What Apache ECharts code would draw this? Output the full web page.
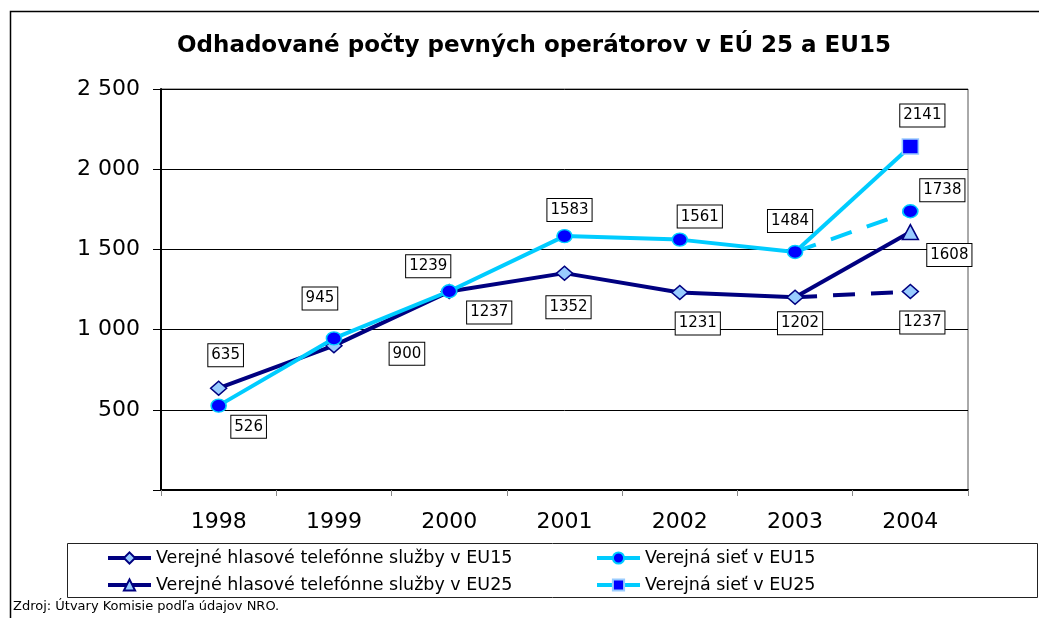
<!DOCTYPE html>
<html>
<head>
<meta charset="utf-8">
<script src="https://cdn.jsdelivr.net/npm/echarts@6/dist/echarts.min.js"></script>
<style>
  html, body { margin: 0; padding: 0; background: #fff; }
  #chart { width: 1039px; height: 618px; }
</style>
</head>
<body>
<div id="chart"></div>
<script>
// data
const years = ['1998', '1999', '2000', '2001', '2002', '2003', '2004'];
const seriesNames = [
  'Verejné hlasové telefónne služby v EU15',
  'Verejná sieť v EU15',
  'Verejné hlasové telefónne služby v EU25',
  'Verejná sieť v EU25'
];
const voiceEU15 = [635, 900, 1237, 1352, 1231, 1202, 1237];
const netEU15 = [526, 945, 1239, 1583, 1561, 1484, 1738];
const voiceEU25 = [null, null, null, null, null, 1202, 1608];
const netEU25 = [null, null, null, null, null, 1484, 2141];
const yTicks = [0, 500, 1000, 1500, 2000, 2500];

// label box offsets from the point (px), null = no label
const voiceEU15Off = [[7, -33], [73, 8], [40, 21], [4, 34], [18, 31], [5, 26], [12, 31]];
const netEU15Off = [[30, 21], [-14, -40], [-21, -25], [5, -26], [20, -23], [-5, -31], [32, -21]];
const voiceEU25Off = [null, null, null, null, null, null, [39, 23]];
const netEU25Off = [null, null, null, null, null, null, [12, -31]];

// the reference is stretched wide, DejaVu gets closer widths
const FONT = 'DejaVu Sans';
const NAVY = '#000080';
const CYAN = '#00CCFF';
const LIGHT = '#99CCFF';
const BLUE = '#0000FF';

const boxLabel = {
  show: true,
  position: 'inside',
  align: 'center',
  verticalAlign: 'middle',
  fontFamily: FONT,
  fontSize: 15,
  lineHeight: 16,
  color: '#000',
  backgroundColor: '#fff',
  borderColor: '#000',
  borderWidth: 1,
  padding: [3, 3, 3, 3]
};

// build data items, keeping only points in [from, to]
function items (values, offsets, from, to) {
  return values.map((v, i) => {
    if (i < from || i > to || v == null) return null;
    const off = offsets[i];
    const item = { value: v };
    // the 2003 start point of a dashed/EU25 piece is labelled by the solid series
    if (off && !(from === 5 && i === 5)) {
      item.label = Object.assign({}, boxLabel, { offset: off });
    } else {
      item.label = { show: false };
    }
    return item;
  });
}

function lineSeries (name, data, color, lineType, symbol, size, fill, border, hideIdx, z) {
  return {
    name: name,
    type: 'line',
    data: data,
    z: z,
    connectNulls: false,
    showAllSymbol: true,
    symbol: symbol,
    symbolSize: (v, p) => (hideIdx.indexOf(p.dataIndex) >= 0 ? 0 : size),
    lineStyle: { color: color, width: 4, type: lineType },
    itemStyle: { color: fill, borderColor: border, borderWidth: 1.5 },
    label: { show: false },
    emphasis: { disabled: true }
  };
}

const chart = echarts.init(document.getElementById('chart'), null, { renderer: 'canvas' });

const option = {
  animation: false,
  backgroundColor: '#fff',
  title: {
    text: 'Odhadované počty pevných operátorov v EÚ 25 a EU15',
    left: 172,
    top: 30,
    textStyle: { fontFamily: FONT, fontSize: 23, fontWeight: 'bold', color: '#000' }
  },
  legend: [0, 1, 2, 3].map(i => ({
    data: [seriesNames[i]],
    left: i % 2 === 0 ? 106 : 595,
    top: i < 2 ? 549 : 576,
    padding: 0,
    itemWidth: 43,
    itemHeight: 14,
    selectedMode: false,
    lineStyle: { width: 4 },
    textStyle: { fontFamily: FONT, fontSize: 17.5, color: '#000' }
  })),
  grid: {
    left: 161,
    right: 71,
    top: 89,
    bottom: 128,
    show: true,
    borderColor: '#555',
    borderWidth: 1,
    backgroundColor: 'transparent'
  },
  xAxis: {
    type: 'category',
    data: years,
    boundaryGap: true,
    axisLine: { lineStyle: { color: '#000', width: 2 } },
    axisTick: { show: true, length: 6, lineStyle: { color: '#888' } },
    axisLabel: { fontFamily: FONT, fontSize: 22, color: '#000', margin: 21 }
  },
  yAxis: {
    type: 'value',
    min: yTicks[0],
    max: yTicks[yTicks.length - 1],
    interval: yTicks[1] - yTicks[0],
    axisLine: { show: true, lineStyle: { color: '#000', width: 2 } },
    axisTick: { show: true, length: 8, lineStyle: { color: '#000' } },
    splitLine: { show: true, lineStyle: { color: '#000', width: 1 } },
    axisLabel: {
      fontFamily: FONT,
      fontSize: 22,
      color: '#000',
      margin: 21,
      formatter: v => (v === 0 ? '' : String(v).replace(/\B(?=(\d{3})+(?!\d))/g, ' '))
    }
  },
  series: [
    // EU15 voice: solid to 2003, dashed to 2004
    lineSeries(seriesNames[0], items(voiceEU15, voiceEU15Off, 0, 5), NAVY, 'solid', 'diamond', [16, 14], LIGHT, NAVY, [], 3),
    lineSeries(seriesNames[0], items(voiceEU15, voiceEU15Off, 5, 6), NAVY, [22, 16], 'diamond', [16, 14], LIGHT, NAVY, [5], 2),
    // EU15 network
    lineSeries(seriesNames[1], items(netEU15, netEU15Off, 0, 5), CYAN, 'solid', 'circle', [15, 13], BLUE, CYAN, [], 5),
    lineSeries(seriesNames[1], items(netEU15, netEU15Off, 5, 6), CYAN, [22, 16], 'circle', [15, 13], BLUE, CYAN, [5], 4),
    // EU25 series start from the 2003 EU15 points
    lineSeries(seriesNames[2], items(voiceEU25, voiceEU25Off, 5, 6), NAVY, 'solid', 'triangle', [16, 15], LIGHT, NAVY, [5], 2),
    lineSeries(seriesNames[3], items(netEU25, netEU25Off, 5, 6), CYAN, 'solid', 'rect', [16, 15], BLUE, LIGHT, [5], 2)
  ],
  graphic: [
    // outer frame
    {
      type: 'rect',
      shape: { x: 10.5, y: 11.5, width: 1100, height: 700 },
      style: { fill: null, stroke: '#000', lineWidth: 1.5 },
      silent: true
    },
    // legend frame
    {
      type: 'rect',
      shape: { x: 67.5, y: 543.5, width: 970, height: 54 },
      style: { fill: null, stroke: '#222', lineWidth: 1 },
      silent: true
    },
    {
      type: 'text',
      left: 13,
      top: 600,
      style: { text: 'Zdroj: Útvary Komisie podľa údajov NRO.', fontFamily: FONT, fontSize: 13, fill: '#000' },
      silent: true
    }
  ]
};

chart.setOption(option);
</script>
</body>
</html>
